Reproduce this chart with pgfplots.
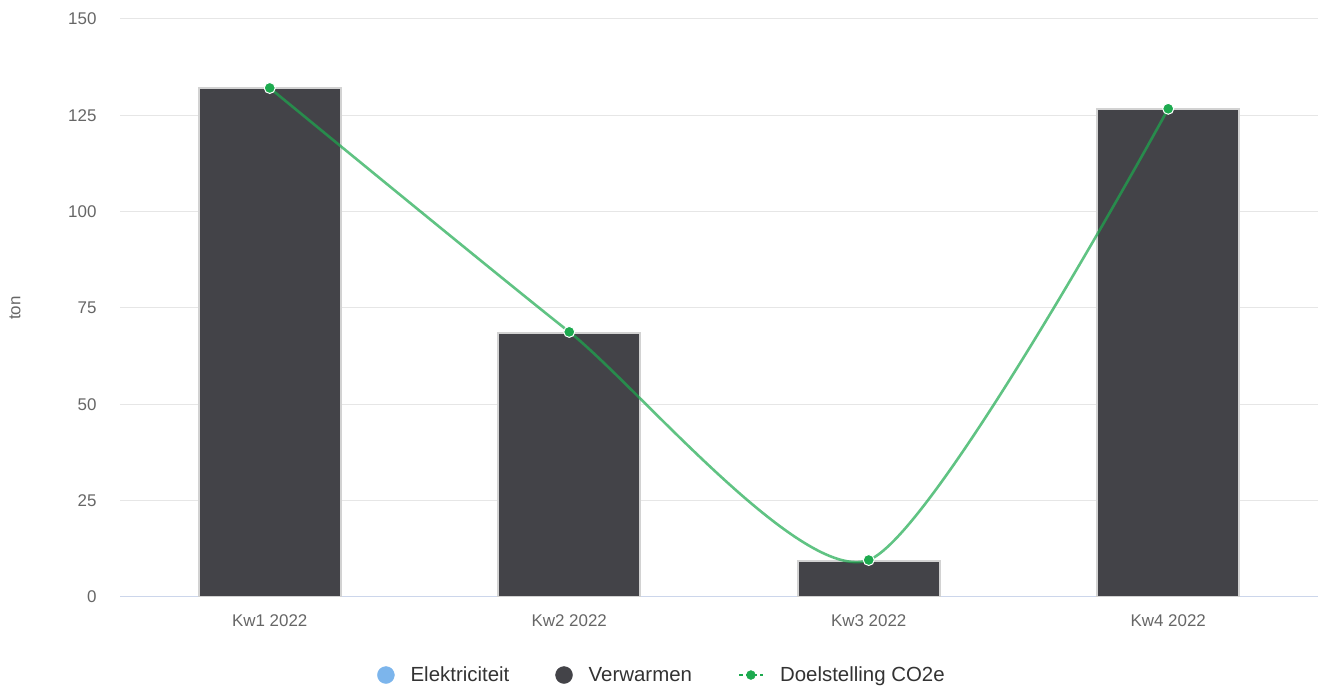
\documentclass[border=0pt]{standalone}
\usepackage{pgfplots}
\pgfplotsset{compat=1.18}
\usepackage{fontspec}
\setmainfont{Liberation Sans}
\definecolor{barfill}{HTML}{434348}
\definecolor{barborder}{HTML}{D2D2D2}
\definecolor{elek}{HTML}{7CB5EC}
\definecolor{goal}{HTML}{1DAA4F}
\definecolor{gridc}{HTML}{E6E6E6}
\definecolor{axisc}{HTML}{CCD6EB}
\definecolor{tickc}{HTML}{666666}
\begin{document}
\begin{tikzpicture}
\useasboundingbox (0,0) rectangle (1318bp,686bp);
\begin{axis}[
  at={(120bp,89bp)}, anchor=south west,
  scale only axis, width=1198bp, height=578bp,
  xmin=-0.5, xmax=3.5, ymin=0, ymax=150,
  xtick={0,1,2,3},
  xticklabels={Kw1 2022,Kw2 2022,Kw3 2022,Kw4 2022},
  ytick={0,25,50,75,100,125,150},
  ymajorgrids, grid style={gridc, line width=1bp},
  major tick length=0pt,
  axis x line*=bottom, axis y line*=left,
  x axis line style={axisc, line width=1bp, -},
  y axis line style={draw=none},
  tick label style={font=\fontsize{17}{20}\selectfont, text=tickc},
  yticklabel style={anchor=east, xshift=-20bp},
  xticklabel style={anchor=center, yshift=-24bp},
  ylabel={ton},
  every axis y label/.style={at={(rel axis cs:0,0.5)}, xshift=-105bp, rotate=90, anchor=center,
    font=\fontsize{17}{20}\selectfont, text=tickc},
  /pgf/number format/assume math mode=true,
  legend columns=3,
  legend style={at={(rel axis cs:0.4524,-0.135)}, anchor=center, draw=none, fill=none,
    font=\fontsize{20.5}{24}\selectfont, text=black!80,
    /tikz/every odd column/.append style={column sep=14bp},
    /tikz/every even column/.append style={column sep=44bp}},
  legend cell align=left,
]
\addlegendimage{legend image code/.code={\fill[elek] (0.45cm,0) circle (8.5bp);}}
\addlegendentry{Elektriciteit}
\addlegendimage{legend image code/.code={\fill[barfill] (0.45cm,0) circle (8.5bp);}}
\addlegendentry{Verwarmen}
\addlegendimage{legend image code/.code={\draw[goal, line width=2bp, dash pattern=on 4bp off 3bp] (0.1cm,0) -- (0.95cm,0); \fill[goal] (0.52cm,0) circle (4.5bp);}}
\addlegendentry{Doelstelling CO2e}
\addplot[ybar, bar width=142bp, fill=barfill, draw=barborder, line width=2bp, forget plot]
  coordinates {(0,132) (1,68.6) (2,9.4) (3,126.6)};
\addplot[smooth, tension=0.4, draw=goal, draw opacity=0.7, line width=2.6bp,
  mark=*, mark size=5.5bp, mark options={fill=goal, draw=white, line width=1bp, draw opacity=1, fill opacity=1}, forget plot]
  coordinates {(0,132.1) (1,68.8) (2,9.6) (3,126.7)};
\end{axis}
\end{tikzpicture}
\end{document}
